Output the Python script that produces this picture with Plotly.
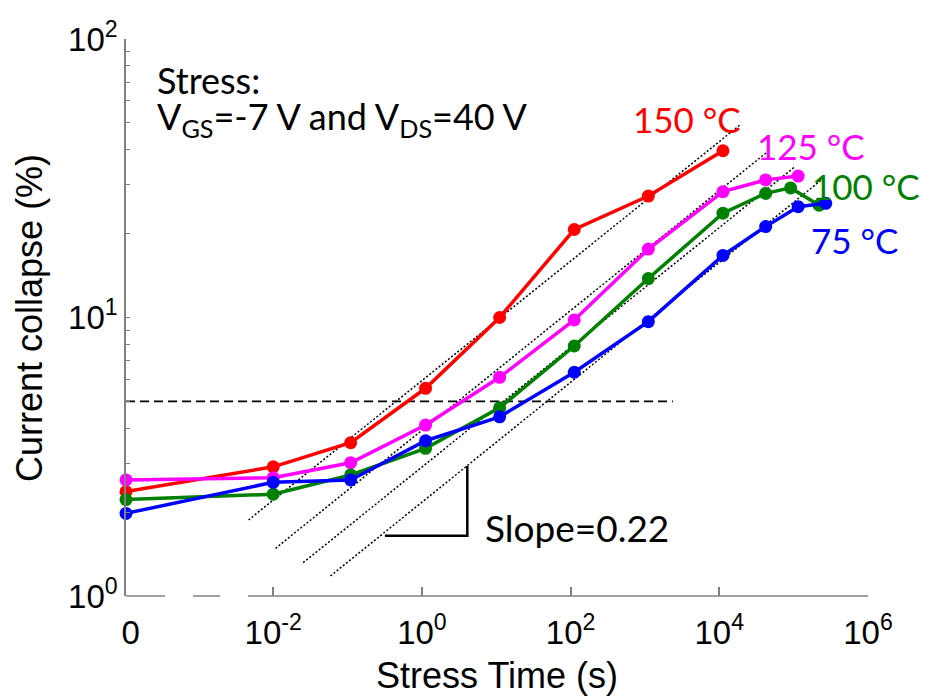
import numpy as np
import plotly.graph_objects as go

# ---------------- data ----------------
ZERO_POS = 10 ** -3.98  # position where t = 0 is drawn (axis break)

t_150 = [0, 0.01, 0.11, 1.12, 11.1, 112, 1110, 11200]
y_150 = [2.37, 2.91, 3.55, 5.57, 10.0, 20.7, 27.3, 39.7]

t_125 = [0, 0.01, 0.11, 1.12, 11.1, 112, 1110, 11200, 42000, 115000]
y_125 = [2.61, 2.66, 3.01, 4.11, 6.10, 9.80, 17.6, 28.3, 31.2, 32.2]

t_100 = [0, 0.01, 0.11, 1.12, 11.1, 112, 1110, 11200, 42000, 91000, 220000]
y_100 = [2.22, 2.32, 2.72, 3.39, 4.74, 7.90, 13.8, 23.7, 27.9, 29.2, 25.3]

t_75 = [0, 0.01, 0.11, 1.12, 11.1, 112, 1110, 11200, 42000, 115000, 270000]
y_75 = [1.98, 2.56, 2.61, 3.61, 4.40, 6.36, 9.66, 16.7, 21.2, 25.0, 25.7]

# slope-0.22 guide lines (start / end)
guide_t0 = [4.66e-3, 1.074e-2, 2.53e-2, 5.89e-2]
guide_t1 = [1.89e4, 4.31e4, 1.04e5, 2.37e5]
guide_y0 = [1.875, 1.483, 1.317, 1.180]
guide_y1 = [49.1, 39.1, 34.8, 31.2]

# 5 % reference level
ref_t = [0, 2380]
ref_y = [5.0, 5.0]

# slope bracket
bracket_t = [0.318, 4.08, 4.08]
bracket_y = [1.646, 1.646, 2.93]

x_tickvals = [ZERO_POS, 1e-2, 1, 1e2, 1e4, 1e6]
x_ticktext = [" 0", "10<sup>-2</sup>", "10<sup>0</sup>", "10<sup>2</sup>",
              "10<sup>4</sup>", "10<sup>6</sup>"]
y_tickvals = [1, 10, 100]
y_ticktext = ["10<sup>0</sup>", "10<sup>1</sup>", "10<sup>2</sup>"]

series = [
    ("150 °C", t_150, y_150, "#FF0000"),
    ("125 °C", t_125, y_125, "#FF00FF"),
    ("100 °C", t_100, y_100, "#008000"),
    ("75 °C", t_75, y_75, "#0000FF"),
]


def xpos(ts):
    return [ZERO_POS if t == 0 else t for t in ts]


fig = go.Figure()

# guide lines
for a, b, c, d in zip(guide_t0, guide_t1, guide_y0, guide_y1):
    fig.add_trace(go.Scatter(x=[a, b], y=[c, d], mode="lines",
                             line=dict(color="black", width=1.5, dash="2px,2px"),
                             showlegend=False, hoverinfo="skip"))

fig.add_trace(go.Scatter(x=xpos(ref_t), y=ref_y, mode="lines",
                         line=dict(color="black", width=1.6, dash="9px,5px"),
                         showlegend=False, hoverinfo="skip"))

fig.add_trace(go.Scatter(x=bracket_t, y=bracket_y, mode="lines",
                         line=dict(color="black", width=2.5),
                         showlegend=False, hoverinfo="skip"))

for name, ts, ys, col in series:
    fig.add_trace(go.Scatter(x=xpos(ts), y=ys, mode="lines+markers", name=name,
                             line=dict(color=col, width=3.5),
                             marker=dict(color=col, size=13),
                             showlegend=False, cliponaxis=False))

L, R, T, B = 126, 66, 39, 101
W, H = 934, 697
pw, ph = W - L - R, H - T - B


def px(xp):
    return (xp - L) / pw


def py(yp):
    return (H - B - yp) / ph


AX = "Liberation Sans, Arial, sans-serif"
CAL = "Lato, sans-serif"

fig.update_layout(
    width=W, height=H,
    margin=dict(l=L, r=R, t=T, b=B),
    paper_bgcolor="white", plot_bgcolor="white",
    showlegend=False,
    font=dict(family=AX, color="black"),
    xaxis=dict(type="log", range=[-3.98, 6], showgrid=False, zeroline=False,
               showline=False, tickvals=x_tickvals, ticktext=x_ticktext,
               ticks="inside", ticklen=9, tickcolor="#808080", tickwidth=1.5,
               ticklabelstandoff=14,
               tickfont=dict(family=AX, size=33, color="black")),
    yaxis=dict(type="log", range=[0, 2], showgrid=False, zeroline=False,
               showline=True, linecolor="#808080", linewidth=1.5,
               tickvals=y_tickvals, ticktext=y_ticktext,
               ticks="inside", ticklen=4, tickcolor="#808080", tickwidth=1.2,
               minor=dict(ticks="inside", ticklen=4, tickcolor="#808080", tickwidth=1.2,
                          dtick="D1", showgrid=False),
               tickfont=dict(family=AX, size=33, color="black")),
)

# broken x axis line
for a, b in [(126, 165), (193, 220), (248, 868)]:
    fig.add_shape(type="line", xref="paper", yref="paper",
                  x0=px(a), x1=px(b), y0=0, y1=0,
                  line=dict(color="#808080", width=1.5))

ann = [
    ("Stress:", 155, 80, "left", "black", 36),
    ("V<sub>GS</sub>=-7 V and V<sub>DS</sub>=40 V", 155, 119, "left", "black", 36),
    ("150 °C", 687, 119.5, "center", "#FF0000", 35),
    ("125 °C", 811, 145.5, "center", "#FF00FF", 35),
    ("100 °C", 865.5, 185.5, "center", "#008000", 35),
    ("75 °C", 854, 240, "center", "#0000FF", 35),
    ("Slope=0.22", 483, 527, "left", "black", 37),
]
for text, xp, yp, anc, col, sz in ann:
    fig.add_annotation(text=text, xref="paper", yref="paper", x=px(xp), y=py(yp),
                       xanchor=anc, yanchor="middle", showarrow=False,
                       font=dict(family=CAL, size=sz, color=col))

fig.add_annotation(text="Stress Time (s)", xref="paper", yref="paper",
                   x=px(497), y=py(675.5), xanchor="center", yanchor="middle",
                   showarrow=False, font=dict(family=AX, size=36, color="black"))
fig.add_annotation(text="Current collapse (%)", xref="paper", yref="paper",
                   x=px(29), y=py(318), xanchor="center", yanchor="middle",
                   textangle=-90, showarrow=False,
                   font=dict(family=AX, size=36, color="black"))

fig.write_html("out.html", config={"displayModeBar": False},
               post_script="document.body.style.margin='0px';")
